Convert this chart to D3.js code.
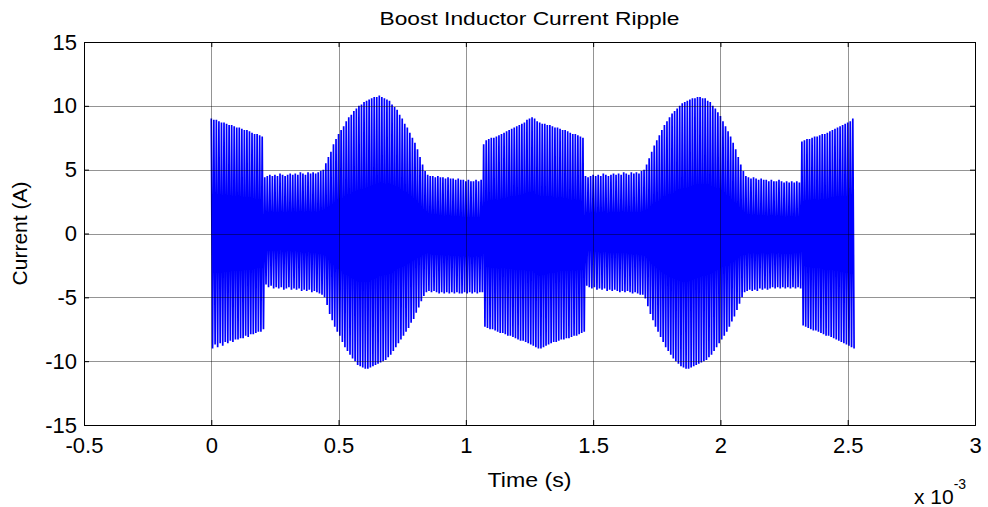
<!DOCTYPE html>
<html>
<head>
<meta charset="utf-8">
<script src="https://cdn.jsdelivr.net/npm/d3@7"></script>
<style>
    body { margin: 0; background: #fff; }
    text { font-family: Arial, "Liberation Sans", sans-serif; fill: #000; }
</style>
</head>
<body>
<div id="chart"></div>
<script>
// time axis is in ms (shown with the "x 10^-3" multiplier)
var xTicks = [-0.5, 0, 0.5, 1, 1.5, 2, 2.5, 3]
var yTicks = [-15, -10, -5, 0, 5, 10, 15]
var cycleMs = 0.01

// positive / negative peak of every switching cycle (A), 10 cycles per row
var upperPeak = [
    9.0, 8.9, 8.9, 8.8, 8.7, 8.7, 8.6, 8.5, 8.5, 8.4,
    8.3, 8.3, 8.2, 8.1, 8.1, 8.0, 7.9, 7.8, 7.8, 7.7,
    7.6, 4.4, 4.5, 4.6, 4.5, 4.6, 4.5, 4.7, 4.6, 4.5,
    4.6, 4.7, 4.6, 4.7, 4.6, 4.8, 4.7, 4.6, 4.8, 4.7,
    4.8, 4.7, 4.8, 4.9, 5.0, 5.5, 6.0, 6.4, 7.0, 7.4,
    7.8, 8.1, 8.4, 8.8, 9.1, 9.3, 9.6, 9.8, 10.0, 10.1,
    10.3, 10.4, 10.5, 10.6, 10.7, 10.7, 10.8, 10.7, 10.6, 10.5,
    10.4, 10.1, 9.9, 9.7, 9.3, 9.0, 8.6, 8.3, 7.9, 7.5,
    7.1, 6.6, 6.0, 5.4, 4.9, 4.6, 4.5, 4.5, 4.4, 4.5,
    4.4, 4.4, 4.3, 4.4, 4.3, 4.3, 4.2, 4.3, 4.2, 4.2,
    4.1, 4.2, 4.1, 4.1, 4.2, 4.1, 4.2, 7.0, 7.3, 7.4,
    7.5, 7.5, 7.6, 7.7, 7.8, 7.9, 8.0, 8.1, 8.2, 8.3,
    8.4, 8.5, 8.6, 8.7, 8.9, 9.0, 9.1, 9.0, 8.8, 8.7,
    8.6, 8.6, 8.5, 8.5, 8.4, 8.3, 8.3, 8.2, 8.1, 8.1,
    8.0, 7.9, 7.8, 7.8, 7.7, 7.6, 7.5, 4.5, 4.4, 4.5,
    4.6, 4.5, 4.6, 4.5, 4.7, 4.6, 4.5, 4.6, 4.7, 4.6,
    4.7, 4.6, 4.8, 4.7, 4.6, 4.8, 4.7, 4.8, 4.7, 4.9,
    5.0, 5.4, 5.9, 6.4, 6.9, 7.3, 7.7, 8.1, 8.5, 8.8,
    9.1, 9.4, 9.6, 9.8, 10.0, 10.2, 10.3, 10.4, 10.5, 10.6,
    10.6, 10.7, 10.7, 10.6, 10.6, 10.4, 10.3, 10.0, 9.8, 9.5,
    9.2, 8.8, 8.4, 8.0, 7.6, 7.1, 6.6, 6.0, 5.4, 4.9,
    4.5, 4.4, 4.3, 4.4, 4.3, 4.2, 4.3, 4.2, 4.2, 4.1,
    4.2, 4.1, 4.1, 4.2, 4.1, 4.0, 4.1, 4.0, 4.1, 4.0,
    4.1, 4.0, 7.2, 7.3, 7.4, 7.4, 7.5, 7.6, 7.6, 7.7,
    7.8, 7.8, 7.9, 8.0, 8.1, 8.2, 8.3, 8.4, 8.5, 8.6,
    8.7, 8.8, 9.0
]
var lowerPeak = [
    -9.0, -8.7, -8.9, -8.6, -8.8, -8.5, -8.6, -8.4, -8.5, -8.3,
    -8.3, -8.2, -8.2, -8.0, -8.1, -7.9, -7.9, -7.8, -7.7, -7.7,
    -7.5, -4.0, -4.2, -4.1, -4.3, -4.2, -4.3, -4.2, -4.4, -4.3,
    -4.2, -4.4, -4.3, -4.4, -4.3, -4.5, -4.4, -4.5, -4.4, -4.6,
    -4.5, -4.6, -4.7, -4.8, -5.0, -5.6, -6.3, -6.8, -7.3, -7.7,
    -8.0, -8.5, -8.9, -9.2, -9.5, -9.8, -10.0, -10.3, -10.4, -10.5,
    -10.6, -10.6, -10.5, -10.4, -10.3, -10.2, -10.1, -10.0, -9.9, -9.7,
    -9.5, -9.2, -8.9, -8.6, -8.3, -8.0, -7.7, -7.4, -7.0, -6.7,
    -6.2, -5.8, -5.3, -4.9, -4.6, -4.5, -4.6, -4.5, -4.6, -4.7,
    -4.6, -4.7, -4.6, -4.7, -4.6, -4.7, -4.6, -4.7, -4.7, -4.6,
    -4.7, -4.6, -4.7, -4.6, -4.7, -4.6, -4.6, -7.3, -7.4, -7.5,
    -7.5, -7.6, -7.7, -7.8, -7.8, -7.9, -8.0, -8.0, -8.1, -8.2,
    -8.3, -8.4, -8.4, -8.5, -8.6, -8.7, -8.8, -8.9, -9.0, -9.0,
    -8.9, -8.8, -8.7, -8.6, -8.5, -8.5, -8.4, -8.3, -8.3, -8.2,
    -8.2, -8.1, -8.0, -8.0, -7.9, -7.8, -7.7, -4.1, -4.2, -4.3,
    -4.2, -4.4, -4.3, -4.4, -4.3, -4.5, -4.4, -4.5, -4.4, -4.5,
    -4.6, -4.5, -4.6, -4.5, -4.6, -4.7, -4.6, -4.7, -4.8, -4.8,
    -5.1, -5.7, -6.3, -6.8, -7.3, -7.7, -8.1, -8.5, -8.9, -9.2,
    -9.5, -9.8, -10.0, -10.2, -10.4, -10.5, -10.6, -10.6, -10.5, -10.4,
    -10.3, -10.2, -10.1, -10.0, -9.9, -9.7, -9.5, -9.2, -8.9, -8.6,
    -8.3, -8.0, -7.7, -7.3, -6.9, -6.5, -6.0, -5.5, -5.0, -4.6,
    -4.5, -4.4, -4.5, -4.4, -4.5, -4.3, -4.4, -4.3, -4.4, -4.3,
    -4.2, -4.3, -4.2, -4.3, -4.2, -4.3, -4.2, -4.3, -4.2, -4.3,
    -4.2, -4.3, -7.2, -7.3, -7.4, -7.5, -7.6, -7.6, -7.7, -7.8,
    -7.9, -8.0, -8.0, -8.1, -8.2, -8.3, -8.4, -8.5, -8.6, -8.7,
    -8.8, -8.9, -9.0
]

var width = 988,
    height = 507

var margin = {
    top: 42,
    right: 13,
    bottom: 82,
    left: 84
}

var svg = d3.select('#chart').append('svg')
    .attr('width', width)
    .attr('height', height)

var x = d3.scaleLinear()
    .domain([-0.5, 3])
    .range([margin.left, width - margin.right])

var y = d3.scaleLinear()
    .domain([-15, 15])
    .range([height - margin.bottom, margin.top])

// waveform: up to the positive peak, down to the negative peak, each cycle
var points = []
upperPeak.forEach(function (v, i) {
    points.push([i * cycleMs, v])
    points.push([i * cycleMs + cycleMs / 2, lowerPeak[i]])
})

svg.append('path')
    .datum(points)
    .attr('fill', 'none')
    .attr('stroke', '#0000ff')
    .attr('stroke-width', 1.7)
    .attr('stroke-linejoin', 'bevel')
    .attr('d', d3.line().x(d => x(d[0])).y(d => y(d[1])))

// grid sits on top of the trace, like the original
var grid = svg.append('g')
    .attr('stroke', '#000')
    .attr('stroke-opacity', 0.42)
    .attr('stroke-width', 1)

grid.selectAll('.vx').data(xTicks.slice(1, -1)).enter().append('line')
    .attr('x1', d => Math.round(x(d)) + 0.5).attr('x2', d => Math.round(x(d)) + 0.5)
    .attr('y1', y(15)).attr('y2', y(-15))

grid.selectAll('.hy').data(yTicks.slice(1, -1)).enter().append('line')
    .attr('y1', d => Math.round(y(d)) + 0.5).attr('y2', d => Math.round(y(d)) + 0.5)
    .attr('x1', x(-0.5)).attr('x2', x(3))

// axes, ticks pointing inward; plain hyphen for negatives like the original
var fmt = d => String(d)
var axisBottom = d3.axisBottom(x).tickValues(xTicks).tickSize(-5).tickPadding(12).tickFormat(fmt)
var axisLeft = d3.axisLeft(y).tickValues(yTicks).tickSize(-5).tickPadding(7).tickFormat(fmt)
var axisTop = d3.axisTop(x).tickValues(xTicks).tickSize(-5).tickFormat('')
var axisRight = d3.axisRight(y).tickValues(yTicks).tickSize(-5).tickFormat('')

function styleAxis(g) {
    g.select('.domain').attr('stroke', '#000')
    g.selectAll('.tick line').attr('stroke', '#000')
    g.selectAll('text').style('font-size', '22px')
}

svg.append('g').attr('transform', `translate(0, ${y(-15)})`).call(axisBottom).call(styleAxis)
svg.append('g').attr('transform', `translate(${x(-0.5)}, 0)`).call(axisLeft).call(styleAxis)
svg.append('g').attr('transform', `translate(0, ${y(15)})`).call(axisTop).call(styleAxis)
svg.append('g').attr('transform', `translate(${x(3)}, 0)`).call(axisRight).call(styleAxis)

// titles
svg.append('text')
    .attr('x', (x(-0.5) + x(3)) / 2)
    .attr('y', 25)
    .attr('text-anchor', 'middle')
    .style('font-size', '19px')
    .attr('textLength', 300)
    .attr('lengthAdjust', 'spacingAndGlyphs')
    .text('Boost Inductor Current Ripple')

svg.append('text')
    .attr('x', (x(-0.5) + x(3)) / 2)
    .attr('y', 487)
    .attr('text-anchor', 'middle')
    .style('font-size', '20px')
    .attr('textLength', 84)
    .attr('lengthAdjust', 'spacingAndGlyphs')
    .text('Time (s)')

svg.append('text')
    .attr('transform', `translate(27, ${y(0)}) rotate(-90)`)
    .attr('text-anchor', 'middle')
    .style('font-size', '21px')
    .text('Current (A)')

var mult = svg.append('text')
    .attr('x', 914)
    .attr('y', 504)
    .style('font-size', '21px')
mult.append('tspan').text('x 10')
mult.append('tspan').attr('dy', -15).style('font-size', '14px').text('-3')
</script>
</body>
</html>
